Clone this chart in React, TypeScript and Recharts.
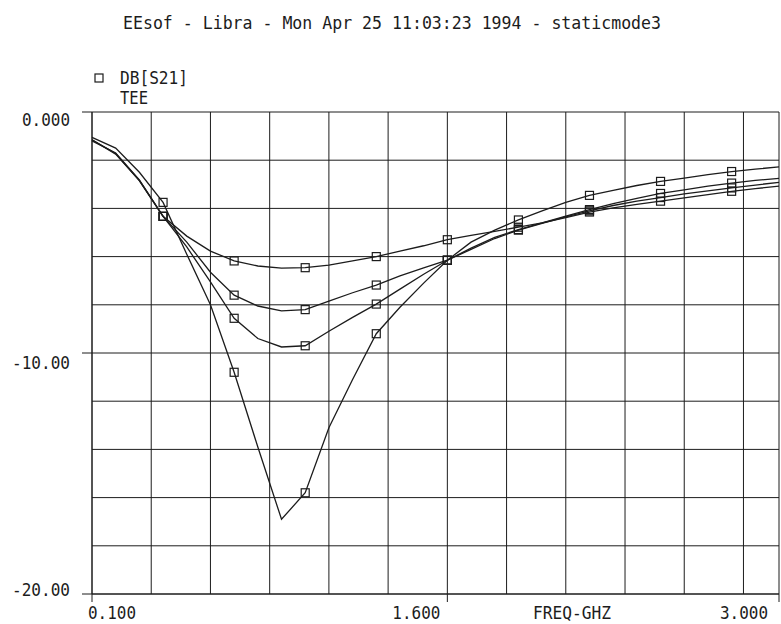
import React from "react";
import { LineChart, Line, XAxis, YAxis, CartesianGrid } from "recharts";

// frequency sweep, GHz
const freqs = [
  0.1, 0.2, 0.3, 0.4, 0.5, 0.6, 0.7, 0.8, 0.9, 1.0,
  1.1, 1.2, 1.3, 1.4, 1.5, 1.6, 1.7, 1.8, 1.9, 2.0,
  2.1, 2.2, 2.3, 2.4, 2.5, 2.6, 2.7, 2.8, 2.9, 3.0,
];

// DB[S21] for the four TEE sweeps
const teeA = [
  -1.05, -1.5, -2.5, -3.75, -5.9, -8.0, -10.8, -13.9, -16.9, -15.8,
  -13.1, -11.1, -9.2, -8.1, -7.1, -6.15, -5.4, -4.9, -4.48, -4.1,
  -3.75, -3.46, -3.25, -3.05, -2.88, -2.74, -2.6, -2.47, -2.37, -2.28,
];
const teeB = [
  -1.15, -1.75, -2.85, -4.33, -5.6, -7.05, -8.56, -9.4, -9.75, -9.7,
  -9.1, -8.52, -7.97, -7.35, -6.73, -6.15, -5.65, -5.2, -4.88, -4.6,
  -4.32, -4.05, -3.8, -3.58, -3.38, -3.23, -3.08, -2.95, -2.84, -2.75,
];
const teeC = [
  -1.15, -1.72, -2.85, -4.33, -5.4, -6.65, -7.6, -8.05, -8.25, -8.2,
  -7.85, -7.5, -7.18, -6.8, -6.47, -6.15, -5.7, -5.25, -4.9, -4.62,
  -4.35, -4.1, -3.88, -3.7, -3.55, -3.4, -3.27, -3.15, -3.03, -2.92,
];
const teeD = [
  -1.2, -1.7, -2.82, -4.33, -5.15, -5.77, -6.18, -6.39, -6.48, -6.46,
  -6.35, -6.18, -6.0, -5.77, -5.55, -5.3, -5.12, -4.95, -4.78, -4.6,
  -4.38, -4.15, -3.98, -3.83, -3.7, -3.56, -3.43, -3.29, -3.18, -3.08,
];

const markerFreqs = [0.4, 0.7, 1.0, 1.3, 1.6, 1.9, 2.2, 2.5, 2.8];

const gridFreqs = [0.1, 0.35, 0.6, 0.85, 1.1, 1.35, 1.6, 1.85, 2.1, 2.35, 2.6, 2.85, 3.0];
const gridDb = [-20, -18, -16, -14, -12, -10, -8, -6, -4, -2, 0];

const xLabelValues = [0.1, 1.6, 3.0];
const xLabelTexts = ["0.100", "1.600", "3.000"];
const yLabelValues = [0, -10, -20];
const yLabelTexts = ["0.000", "-10.00", "-20.00"];

const title = "EEsof - Libra - Mon Apr 25 11:03:23 1994 - staticmode3";
const legendName = "DB[S21]";
const legendSub = "TEE";
const xAxisName = "FREQ-GHZ";

const rows = freqs.map((f, i) => ({ freq: f, a: teeA[i], b: teeB[i], c: teeC[i], d: teeD[i] }));

const FONT = "'DejaVu Sans Mono', 'Liberation Mono', monospace";
const INK = "#1c1c1c";
const FS = 18;
// plotter lettering: tall, narrow glyphs on a ~10px pitch
const PITCH = 10;

const near = (a: number, b: number) => Math.abs(a - b) < 1e-6;

const Plot = ({ x, y, anchor, children }: any) => (
  <text
    x={x}
    y={y}
    textAnchor={anchor || "start"}
    fontFamily={FONT}
    fontSize={FS}
    fill={INK}
    textLength={String(children).length * PITCH - 2}
    lengthAdjust="spacingAndGlyphs"
  >
    {children}
  </text>
);

const XTick = (props: any) => {
  const { x, y, payload } = props;
  const i = xLabelValues.findIndex((v) => near(v, payload.value));
  if (i < 0) return <g />;
  const anchor = i === 0 ? "start" : "end";
  const dx = i === 0 ? -4 : i === 1 ? -7 : -11;
  return (
    <g>
      <line x1={x} y1={y} x2={x} y2={y + 8} stroke={INK} strokeWidth={1} />
      <Plot x={x + dx} y={y + 25} anchor={anchor}>
        {xLabelTexts[i]}
      </Plot>
    </g>
  );
};

const YTick = (props: any) => {
  const { x, y, payload } = props;
  const i = yLabelValues.findIndex((v) => near(v, payload.value));
  if (i < 0) return <g />;
  const dy = i === 0 ? 14 : i === 1 ? 16 : 2;
  return (
    <g>
      <line x1={x - 10} y1={y} x2={x} y2={y} stroke={INK} strokeWidth={1} />
      <Plot x={x - 22} y={y + dy} anchor="end">
        {yLabelTexts[i]}
      </Plot>
    </g>
  );
};

const Marker = (props: any) => {
  const { cx, cy, payload, index } = props;
  const on = markerFreqs.some((m) => near(m, payload.freq));
  if (!on || cx == null || cy == null) return <g key={`n-${index}`} />;
  return (
    <rect
      key={`m-${index}`}
      x={cx - 4}
      y={cy - 4}
      width={8}
      height={8}
      fill="none"
      stroke={INK}
      strokeWidth={1.2}
    />
  );
};

export default function App() {
  const keys = ["a", "b", "c", "d"];
  return (
    <div style={{ position: "absolute", left: 0, top: 0, width: 781, height: 624, background: "#fff" }}>
      <LineChart
        width={781}
        height={624}
        data={rows}
        margin={{ top: 112, right: 2, bottom: 0, left: 0 }}
      >
        <CartesianGrid stroke={INK} strokeWidth={1} />
        <XAxis
          dataKey="freq"
          type="number"
          domain={[0.1, 3.0]}
          ticks={gridFreqs}
          interval={0}
          height={30}
          tickSize={0}
          tickMargin={0}
          tickLine={false}
          axisLine={{ stroke: INK }}
          tick={(p: any) => <XTick {...p} />}
        />
        <YAxis
          type="number"
          domain={[-20, 0]}
          ticks={gridDb}
          interval={0}
          width={92}
          tickSize={0}
          tickMargin={0}
          tickLine={false}
          axisLine={{ stroke: INK }}
          tick={(p: any) => <YTick {...p} />}
        />
        {keys.map((k) => (
          <Line
            key={k}
            dataKey={k}
            type="linear"
            stroke={INK}
            strokeWidth={1.3}
            dot={(p: any) => <Marker {...p} />}
            activeDot={false}
            isAnimationActive={false}
          />
        ))}
      </LineChart>
      <svg
        width={781}
        height={624}
        style={{ position: "absolute", left: 0, top: 0, pointerEvents: "none" }}
      >
        <Plot x={123} y={29}>{title}</Plot>
        <rect x={95} y={74} width={8} height={8} fill="none" stroke={INK} strokeWidth={1.2} />
        <Plot x={120} y={84}>{legendName}</Plot>
        <Plot x={120} y={104}>{legendSub}</Plot>
        <Plot x={533} y={619}>{xAxisName}</Plot>
      </svg>
    </div>
  );
}
